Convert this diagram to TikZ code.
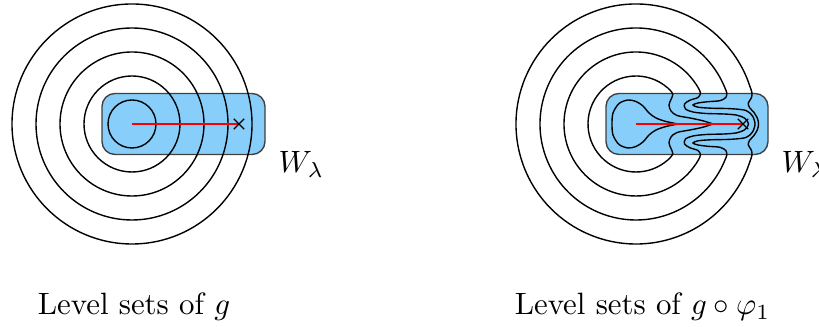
\documentclass[tikz,border=0pt]{standalone}
\usepackage{amsmath,amssymb}
\usepackage{tikz}
\usetikzlibrary{calc,shapes.misc}
\definecolor{skyfill}{RGB}{135,206,250}
\tikzset{
  nbhd/.style={draw=black!75,fill=skyfill,line width=0.45pt,rounded corners=4.2pt},
  lvl/.style={line width=0.45pt,black},
  flowline/.style={red,line width=0.75pt},
  endmark/.style={cross out,draw=black,line width=0.45pt,minimum size=2.9pt,inner sep=0pt},
  wlab/.style={anchor=base west,inner sep=0pt},
  capt/.style={anchor=base,inner sep=0pt},
}
\begin{document}
\begin{tikzpicture}[x=0.324pt,y=-0.324pt]
  \useasboundingbox (0,0) rectangle (819,327);
  % level sets of g
  \begin{scope}[shift={(132,124)}]
    \draw[nbhd] (-30,-30.5) rectangle (133,30.5);
    \foreach \r in {24,48,...,120}
      \draw[lvl] (0,0) circle[radius=\r];
    \coordinate (lc) at (0,0);
    \coordinate (lx) at (107,0);
    \draw[flowline] (lc) -- (lx);
    \node[endmark] (lend) at (lx) {};
  \end{scope}
  \node[wlab] (wl) at (278,173) {$W_\lambda$};
  \node[capt] (capl) at (134,315) {Level sets of $g$};
  % level sets of g o phi_1
  \begin{scope}[shift={(636,124)}]
    \draw[nbhd] (-30,-30.5) rectangle (132,30.5);
    % untouched outer parts
    \foreach \r/\a in {48/48.6,72/33.7,96/25.9,120/22}
      \draw[lvl] (-\a:\r) arc[start angle=-\a, end angle=\a-360, radius=\r];
    % innermost set pulled into a finger
    \draw[lvl] plot[smooth] coordinates {(42,0) (30,-2.5) (20,-6) (13,-11)
      (7,-18) (0,-22.5) (-8,-24) (-17,-20.5) (-23,-11) (-24,0) (-23,11)
      (-17,20.5) (-8,24) (0,22.5) (7,18) (13,11) (20,6) (30,2.5) (42,0)};
    \draw[lvl] plot[smooth] coordinates {(31.74,-36) (34.53,-33.35) (36.8,-29.5)
      (35,-24.5) (33,-19) (35,-13) (41,-8.5) (55,-5.8) (67,-3.2) (77,0)};
    \draw[lvl] plot[smooth] coordinates {(31.74,36) (34.53,33.35) (36.8,29.5)
      (35,24.5) (33,19) (35,13) (41,8.5) (55,5.8) (67,3.2) (77,0)};
    \draw[lvl] plot[smooth] coordinates {(59.9,-39.95) (62.35,-36) (64.5,-31)
      (62,-26.5) (54,-23.8) (48.5,-20) (49.5,-15) (57,-12) (70,-10.5) (88,-10)
      (101,-8.8) (109,-5.5) (112.5,0) (109,5.5) (101,8.8) (88,10) (70,10.5)
      (57,12) (49.5,15) (48.5,20) (54,23.8) (62,26.5) (64.5,31) (62.35,36)
      (59.9,39.95)};
    \draw[lvl] plot[smooth] coordinates {(86.36,-41.93) (89,-35.96) (90.8,-31)
      (89.8,-26.5) (84,-23.3) (72,-22.3) (62,-21) (57,-19) (62,-16.8) (75,-15.8)
      (95,-15.3) (110,-13.5) (116.5,-8) (119,0) (116.5,8) (110,13.5) (95,15.3)
      (75,15.8) (62,16.8) (57,19) (62,21) (72,22.3) (84,23.3) (89.8,26.5)
      (90.8,31) (89,35.96) (86.36,41.93)};
    \draw[lvl] plot[smooth] coordinates {(111.26,-44.95) (114.1,-37.1) (116,-31)
      (115.3,-26) (112.3,-21) (113.5,-16.5) (118,-11.5) (121.5,-5.5) (122.5,0)
      (121.5,5.5) (118,11.5) (113.5,16.5) (112.3,21) (115.3,26) (116,31)
      (114.1,37.1) (111.26,44.95)};
    \coordinate (rc) at (0,0);
    \coordinate (rx) at (107,0);
    \draw[flowline] (rc) -- (rx);
    \node[endmark] (rend) at (rx) {};
  \end{scope}
  \node[wlab] (wr) at (781,173) {$W_\lambda$};
  \node[capt] (capr) at (642.5,315) {Level sets of $g\circ\varphi_1$};
\end{tikzpicture}
\end{document}
